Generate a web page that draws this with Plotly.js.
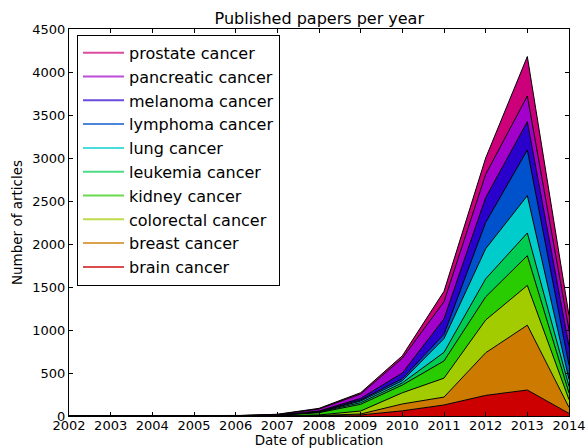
<!DOCTYPE html>
<html>
<head>
<meta charset="utf-8">
<script src="https://cdn.plot.ly/plotly-3.0.1.min.js"></script>
<style>html,body{margin:0;padding:0;background:#fff;}#chart{width:587px;height:448px;}</style>
</head>
<body>
<div id="chart"></div>
<script>
const years = [2002,2003,2004,2005,2006,2007,2008,2009,2010,2011,2012,2013,2014];
const seriesNames = ["brain cancer","breast cancer","colorectal cancer","kidney cancer","leukemia cancer","lung cancer","lymphoma cancer","melanoma cancer","pancreatic cancer","prostate cancer"];
const brain      = [0,0,0,0,0,1,3,12,60,128,240,302,30];
const breast     = [0,0,0,0,1,1,3,11,80,92,495,754,70];
const colorectal = [0,0,0,0,0,2,6,35,130,220,381,462,90];
const kidney     = [0,0,0,0,1,4,27,78,90,200,269,346,78];
const leukemia   = [0,0,0,0,0,1,5,19,25,100,210,264,77];
const lung       = [0,0,0,0,0,1,3,19,25,160,350,434,80];
const lymphoma   = [0,0,0,0,0,1,3,12,25,50,305,531,165];
const melanoma   = [0,0,0,0,1,2,8,19,65,180,290,329,220];
const pancreatic = [0,0,0,0,1,5,23,51,172,200,270,299,190];
const prostate   = [0,0,0,0,0,2,8,15,28,120,190,459,170];
const seriesValues = [brain,breast,colorectal,kidney,leukemia,lung,lymphoma,melanoma,pancreatic,prostate];
const colors = ["#cc0000","#cc7a00","#a3cc00","#29cc00","#00cc52","#00cccc","#0052cc","#2900cc","#a300cc","#cc007a"];
const yTicks = [0,500,1000,1500,2000,2500,3000,3500,4000,4500];

const FONT = "DejaVu Sans, sans-serif";
const traces = [];
seriesValues.forEach((vals, i) => {
  traces.push({
    x: years, y: vals, type: "scatter", mode: "lines",
    stackgroup: "one", fill: "tonexty",
    fillcolor: colors[i],
    line: {color: "#000", width: 1},
    showlegend: false, hoverinfo: "skip"
  });
});
for (let i = seriesNames.length - 1; i >= 0; i--) {
  traces.push({
    x: [null], y: [null], type: "scatter", mode: "lines",
    name: seriesNames[i], legendgroup: "g" + i,
    line: {color: colors[i], width: 2},
    opacity: 0.7, showlegend: true
  });
}

const axisCommon = {
  showline: true, linecolor: "#000", linewidth: 1, mirror: "ticks",
  ticks: "inside", ticklen: 4, tickwidth: 1, tickcolor: "#000",
  showgrid: false, zeroline: false,
  tickfont: {family: FONT, size: 13, color: "#000"}
};
const layout = {
  width: 587, height: 448,
  margin: {l: 69, r: 18, t: 29, b: 32},
  paper_bgcolor: "#fff", plot_bgcolor: "#fff",
  font: {family: FONT, color: "#000"},
  title: {text: "Published papers per year", font: {family: FONT, size: 16, color: "#000"}, x: 0.5439, xanchor: "center", y: 0.960, yanchor: "middle"},
  xaxis: Object.assign({}, axisCommon, {
    range: [2002, 2014], tickvals: years, ticktext: years.map(String),
    ticklabelstandoff: -3,
    title: {text: "Date of publication", font: {family: FONT, size: 13.5, color: "#000"}}
  }),
  yaxis: Object.assign({}, axisCommon, {
    range: [0, 4500], tickvals: yTicks, ticktext: yTicks.map(String),
    automargin: true,
    title: {text: "Number of articles", font: {family: FONT, size: 13.5, color: "#000"}, standoff: 6}
  }),
  legend: {
    x: 0.016, y: 0.985, xanchor: "left", yanchor: "top",
    bordercolor: "#000", borderwidth: 1, bgcolor: "#fff",
    font: {family: FONT, size: 16, color: "#000"},
    tracegroupgap: 0, itemwidth: 41
  },
  showlegend: true
};
Plotly.newPlot("chart", traces, layout, {displayModeBar: false, staticPlot: true});
</script>
</body>
</html>
